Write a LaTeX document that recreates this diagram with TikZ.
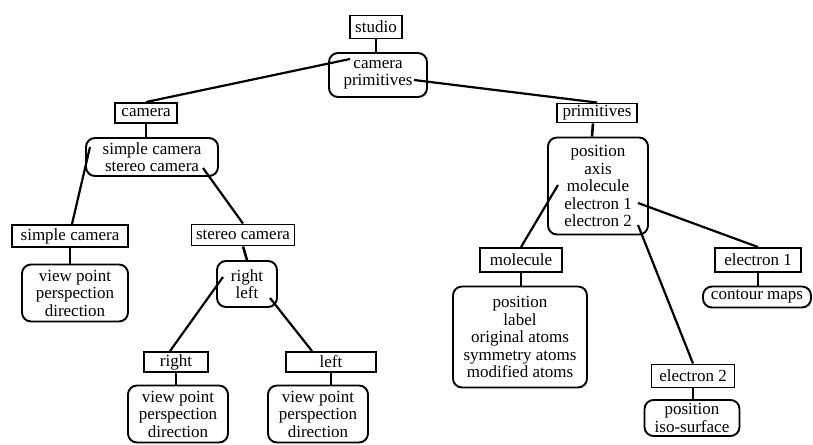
\documentclass[tikz,border=0pt]{standalone}
\usepackage{fontspec}
\setmainfont{Liberation Serif}
\usetikzlibrary{calc}
\begin{document}
\begin{tikzpicture}[x=1pt,y=-1pt,
  sq/.style={draw, line width=1.9pt, inner sep=0pt, align=center, font=\fontsize{17}{17.5}\selectfont},
  rb/.style={sq, rounded corners=9pt},
  conn/.style={line width=2.6pt},
  lnk/.style={line width=2.2pt}]
\useasboundingbox (0,0) rectangle (813,444);
% nodes
\node[sq, minimum width=52pt, minimum height=23pt] (studio) at (376,27) {studio};
\node[rb, minimum width=98pt, minimum height=44pt] (cp) at (378,75) {camera\\primitives};
\node[sq, minimum width=62pt, minimum height=20pt] (camera) at (146,113) {camera};
\node[rb, minimum width=132pt, minimum height=38pt] (sc) at (152,157) {simple camera\\stereo camera};
\node[sq, minimum width=116pt, minimum height=22pt] (simplecam) at (70,236) {simple camera};
\node[sq, minimum width=103pt, minimum height=21pt] (stereocam) at (243,235) {stereo camera};
\node[rb, minimum width=60pt, minimum height=46pt] (rl) at (247,284) {right\\left};
\node[sq, minimum width=64pt, minimum height=20pt] (right) at (176,362) {right};
\node[sq, minimum width=90pt, minimum height=20pt] (left) at (331,362) {left};
\node[rb, minimum width=106pt, minimum height=57pt] (vp1) at (75,293) {view point\\perspection\\direction};
\node[rb, minimum width=100pt, minimum height=57pt] (vp2) at (178,414) {view point\\perspection\\direction};
\node[rb, minimum width=100pt, minimum height=57pt] (vp3) at (318,414) {view point\\perspection\\direction};
\node[sq, minimum width=80pt, minimum height=19pt] (primitives) at (597,113) {primitives};
\node[rb, minimum width=100pt, minimum height=97pt] (plist) at (598,186) {position\\axis\\molecule\\electron 1\\electron 2};
\node[sq, minimum width=82pt, minimum height=24pt] (molecule) at (521,260) {molecule};
\node[rb, minimum width=134pt, minimum height=101pt] (mlist) at (520,337) {position\\label\\original atoms\\symmetry atoms\\modified atoms};
\node[sq, minimum width=86pt, minimum height=24pt] (electron1) at (758,260) {electron 1};
\node[rb, minimum width=108pt, minimum height=21pt] (contour) at (757,297) {contour maps};
\node[sq, minimum width=83pt, minimum height=23pt] (electron2) at (693,376) {electron 2};
\node[rb, minimum width=95pt, minimum height=36pt] (posiso) at (692,418) {position\\iso-surface};
% anchor points inside list boxes
\coordinate (cpA) at (350,59);
\coordinate (cpB) at (414,80);
\coordinate (scA) at (90,147);
\coordinate (scB) at (203,168);
\coordinate (rlA) at (223,277);
\coordinate (rlB) at (270,298);
\coordinate (plA) at (558,185);
\coordinate (plB) at (638,203);
\coordinate (plC) at (638,225);
% connectors
\draw[conn] (studio.south) -- (cp.north -| studio.south);
\draw[lnk] (cpA) -- (camera.north);
\draw[lnk] (cpB) -- (primitives.north);
\draw[conn] (camera.south) -- (sc.north -| camera.south);
\draw[lnk] (scA) -- ($(simplecam.north)+(2,0)$);
\draw[lnk] (scB) -- (stereocam.north);
\draw[conn] (stereocam.south) -- (rl.north);
\draw[lnk] (rlA) -- ($(right.north)+(-6,0)$);
\draw[lnk] (rlB) -- ($(left.north)+(-19,0)$);
\draw[conn] (simplecam.south) -- (vp1.north -| simplecam.south);
\draw[conn] (right.south) -- (vp2.north -| right.south);
\draw[conn] (left.south) -- (vp3.north -| left.south);
\draw[conn] ($(primitives.south)+(-4,0)$) -- ($(plist.north)+(-6,0)$);
\draw[lnk] (plA) -- (molecule.north);
\draw[lnk] (plB) -- (electron1.north);
\draw[lnk] (plC) -- (electron2.north);
\draw[conn] (molecule.south) -- (mlist.north -| molecule.south);
\draw[conn] (electron1.south) -- (contour.north -| electron1.south);
\draw[conn] (electron2.south) -- (posiso.north -| electron2.south);
\end{tikzpicture}
\end{document}
